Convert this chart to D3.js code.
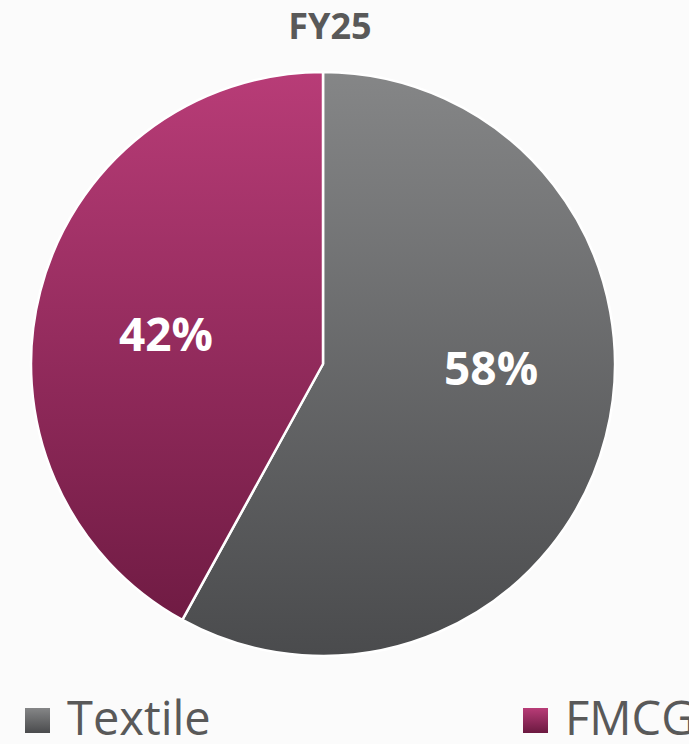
<!DOCTYPE html>
<html>
<head>
<meta charset="utf-8">
<script src="https://cdn.jsdelivr.net/npm/d3@7"></script>
<style>
  body { margin: 0; background: #fbfbfb; overflow: hidden; }
  svg { display: block; }
</style>
</head>
<body>
<div id="chart"></div>
<script>
// data
const categories = ["Textile", "FMCG"];
const shares = [58, 42];
const title = "FY25";

// colours per segment: [top, bottom] of the vertical gradient
const segColors = [["#858687", "#4a4b4d"], ["#b83c77", "#6b1940"]];

const width = 689, height = 744;
const cx = 323, cy = 364, radius = 292;

// label offsets from the arc centroid (Excel "best fit" placement)
const labelNudge = [[4, -38], [7, 13]];

const svg = d3.select("#chart").append("svg")
    .attr("width", width)
    .attr("height", height);

const defs = svg.append("defs");
segColors.forEach((c, i) => {
    // pie group is translated to the centre, so gradient runs -r..r
    let g = defs.append("linearGradient")
        .attr("id", "grad" + i)
        .attr("gradientUnits", "userSpaceOnUse")
        .attr("x1", 0).attr("x2", 0)
        .attr("y1", -radius).attr("y2", radius);
    g.append("stop").attr("offset", "0%").attr("stop-color", c[0]);
    g.append("stop").attr("offset", "100%").attr("stop-color", c[1]);

    let lg = defs.append("linearGradient")
        .attr("id", "legGrad" + i)
        .attr("x1", 0).attr("x2", 0).attr("y1", 0).attr("y2", 1);
    lg.append("stop").attr("offset", "0%").attr("stop-color", c[0]);
    lg.append("stop").attr("offset", "100%").attr("stop-color", c[1]);
});

// title
svg.append("text")
    .attr("x", 330)
    .attr("y", 39)
    .attr("text-anchor", "middle")
    .style("font-family", "'Open Sans', sans-serif")
    .style("font-weight", "bold")
    .style("font-size", "36px")
    .style("fill", "#595959")
    .text(title);

// pie
const data = categories.map((c, i) => ({name: c, value: shares[i], idx: i}));
const pie = d3.pie().value(d => d.value).sort(null);
const arc = d3.arc().innerRadius(0).outerRadius(radius);

const g = svg.append("g").attr("transform", `translate(${cx},${cy})`);

g.selectAll("path")
    .data(pie(data))
    .enter()
    .append("path")
    .attr("d", arc)
    .attr("fill", d => `url(#grad${d.data.idx})`)
    .attr("stroke", "#ffffff")
    .attr("stroke-width", 2.5)
    .attr("stroke-linejoin", "round");

// labels
const labelArc = d3.arc().innerRadius(radius * 0.58).outerRadius(radius * 0.58);
g.selectAll(".lbl")
    .data(pie(data))
    .enter()
    .append("text")
    .attr("class", "lbl")
    .attr("transform", d => {
        let p = labelArc.centroid(d);
        let n = labelNudge[d.data.idx];
        return `translate(${p[0] + n[0]},${p[1] + n[1]})`;
    })
    .attr("dy", "0.36em")
    .attr("text-anchor", "middle")
    .style("font-family", "'Open Sans', sans-serif")
    .style("font-weight", "bold")
    .style("font-size", "46px")
    .style("fill", "#ffffff")
    .text(d => d.data.value + "%");

// legend (FMCG runs off the right edge, as in the original)
const legX = [25, 523];
const leg = svg.append("g");
categories.forEach((c, i) => {
    leg.append("rect")
        .attr("x", legX[i])
        .attr("y", 708)
        .attr("width", 25)
        .attr("height", 25)
        .attr("fill", `url(#legGrad${i})`);
    leg.append("text")
        .attr("x", legX[i] + 42)
        .attr("y", 735)
        .style("font-family", "'Open Sans', sans-serif")
        .style("font-size", "47px")
        .style("fill", "#595959")
        .text(c);
});
</script>
</body>
</html>
